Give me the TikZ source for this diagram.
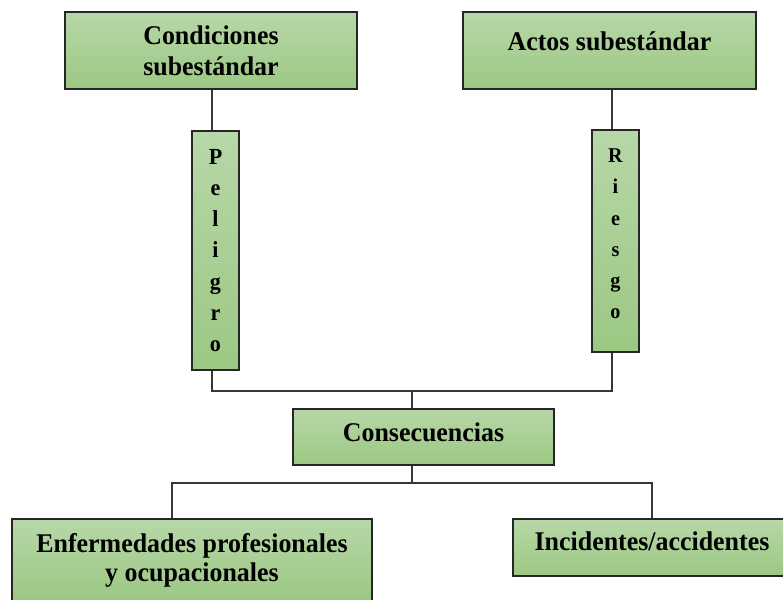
\documentclass[tikz,border=0pt]{standalone}
\usepackage{fontspec}
\setmainfont{Liberation Serif}[FakeStretch=0.96]
\definecolor{boxtop}{RGB}{183,215,168}
\definecolor{boxbot}{RGB}{156,200,131}
\definecolor{edge}{RGB}{38,38,38}
\definecolor{wire}{RGB}{55,55,55}
\tikzset{
  gbox/.style={draw=edge, line width=1.3pt, top color=boxtop, bottom color=boxbot,
    inner sep=0pt, align=center, font=\bfseries\fontsize{27}{29}\selectfont},
  vbox/.style={gbox, font=\bfseries\fontsize{23}{31.2}\selectfont},
  wireline/.style={draw=wire, line width=1.3pt}
}
\begin{document}
\begin{tikzpicture}[x=1pt, y=-1pt]
\useasboundingbox (0,0) rectangle (783,599);
\begin{scope}
\clip (0,0) rectangle (783,599);
\node[gbox, font=\bfseries\fontsize{27}{31}\selectfont, minimum width=292pt, minimum height=77pt] (cond) at (211,50.5) {Condiciones\\subestándar};
\node[gbox, minimum width=293pt, minimum height=77pt, text height=12pt, text depth=12pt] (actos) at (609.5,50.5) {Actos subestándar};
\node[vbox, minimum width=47pt, minimum height=239pt] (pel) at (215.5,250.5) {P\\e\\l\\i\\g\\r\\o};
\node[vbox, font=\bfseries\fontsize{21}{31.2}\selectfont, minimum width=47pt, minimum height=222pt] (ries) at (615.5,241) {R\\i\\e\\s\\g\\o\\[-17pt]\mbox{}};
\node[gbox, minimum width=261pt, minimum height=56pt, text height=14pt, text depth=6pt] (cons) at (423.5,437) {Consecuencias};
\node[gbox, minimum width=360pt, minimum height=82pt] (enf) at (192,560) {Enfermedades profesionales\\y ocupacionales};
\node[gbox, minimum width=278pt, minimum height=57pt, text height=13pt, text depth=8pt] (inc) at (652,547.5) {Incidentes/accidentes};
\end{scope}

\coordinate (jl) at (212,391);
\coordinate (jr) at (612,391);
\coordinate (jt) at (412,391);
\coordinate (bl) at (172,483);
\coordinate (br) at (652,483);
\coordinate (bt) at (412,483);

\draw[wireline] (cond.south -| jl) -- (pel.north -| jl);
\draw[wireline] (actos.south -| jr) -- (ries.north -| jr);
\draw[wireline] (pel.south -| jl) -- (jl) -- (jr) -- (ries.south -| jr);
\draw[wireline] (jt) -- (cons.north -| jt);
\draw[wireline] (cons.south -| bt) -- (bt);
\draw[wireline] (enf.north -| bl) -- (bl) -- (br) -- (inc.north -| br);
\end{tikzpicture}
\end{document}
